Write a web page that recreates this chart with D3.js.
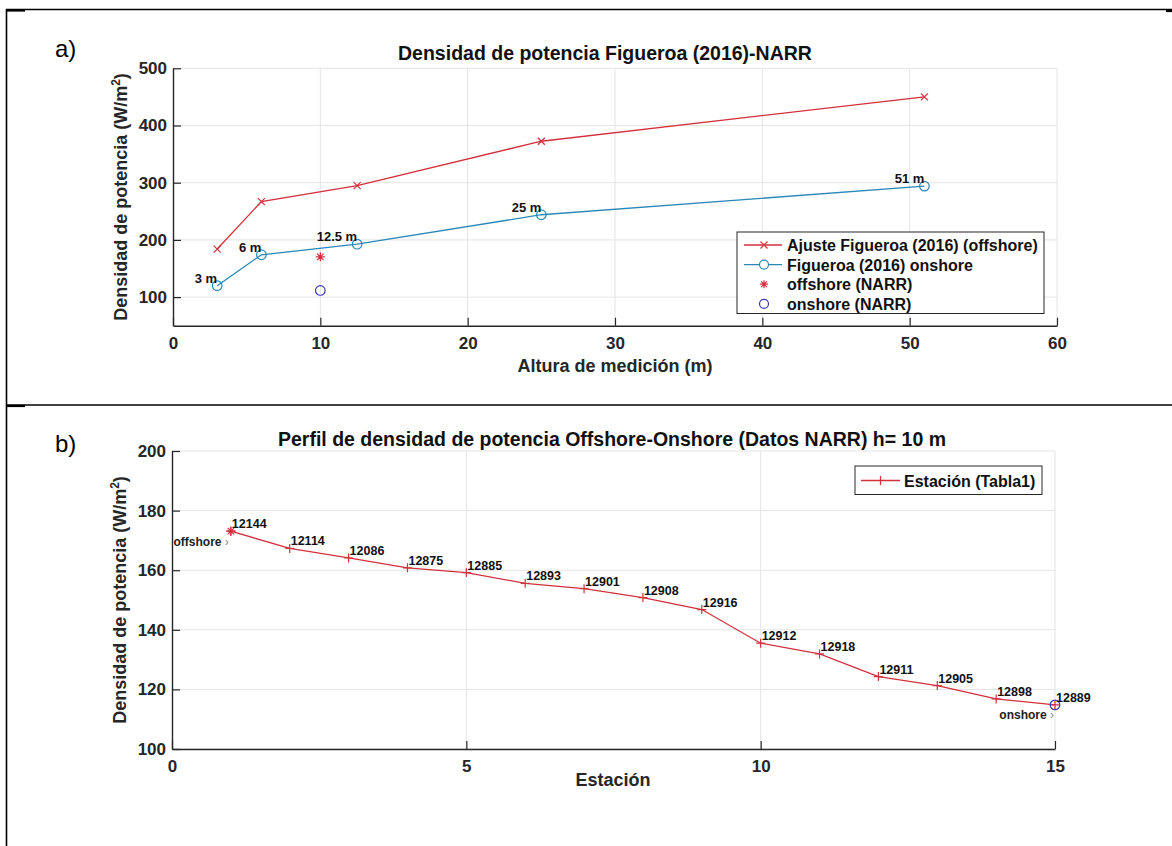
<!DOCTYPE html>
<html>
<head>
<meta charset="utf-8">
<script src="https://cdn.jsdelivr.net/npm/d3@7"></script>
<style>
  body { margin: 0; background: #fff; }
  svg text { font-family: "Liberation Sans", Arial, sans-serif; }
</style>
</head>
<body>
<div id="chart"></div>
<script>
// panel a) data
var alturas = [3, 6, 12.5, 25, 51];
var ajusteOffshore = [184, 267, 295, 372.5, 450];
var figueroaOnshore = [120, 174, 192.5, 244, 294];
var alturaLabels = ["3 m", "6 m", "12.5 m", "25 m", "51 m"];
var narrAltura = [10];
var narrOffshore = [170.4];
var narrOnshore = [111.6];
var xTicksA = [0, 10, 20, 30, 40, 50, 60];
var yTicksA = [100, 200, 300, 400, 500];

// panel b) data
var estaciones = [1, 2, 3, 4, 5, 6, 7, 8, 9, 10, 11, 12, 13, 14, 15];
var densidadPerfil = [173.1, 167.3, 164.1, 160.8, 159.2, 155.6, 153.8, 150.8, 146.8, 135.5, 131.9, 124.3, 121.3, 116.8, 114.8];
var estacionIds = ["12144", "12114", "12086", "12875", "12885", "12893", "12901", "12908", "12916", "12912", "12918", "12911", "12905", "12898", "12889"];
var xTicksB = [0, 5, 10, 15];
var yTicksB = [100, 120, 140, 160, 180, 200];

var RED = "#d3303c";
var BLUE = "#2a88b8";
var NAVY = "#3a3aa8";
var AXIS = "#262626";
var GRID = "#e4e4e4";

var svg = d3.select("#chart")
    .append("svg")
    .attr("width", 1172)
    .attr("height", 846);

// table frame around the two figures
svg.append("line").attr("x1", 6.5).attr("x2", 6.5).attr("y1", 9).attr("y2", 846)
    .attr("stroke", "#000").attr("stroke-width", 1.6);
svg.append("line").attr("x1", 6).attr("x2", 1172).attr("y1", 9.5).attr("y2", 9.5)
    .attr("stroke", "#000").attr("stroke-width", 1.6);
svg.append("line").attr("x1", 6).attr("x2", 1172).attr("y1", 405).attr("y2", 405)
    .attr("stroke", "#000").attr("stroke-width", 1.6);
// small corner marks of the table
svg.append("line").attr("x1", 6).attr("x2", 25).attr("y1", 10.5).attr("y2", 10.5)
    .attr("stroke", "#000").attr("stroke-width", 2.2);
svg.append("line").attr("x1", 6).attr("x2", 25).attr("y1", 406).attr("y2", 406)
    .attr("stroke", "#000").attr("stroke-width", 2.2);
svg.append("line").attr("x1", 1166).attr("x2", 1172).attr("y1", 11).attr("y2", 11)
    .attr("stroke", "#000").attr("stroke-width", 2.2);

// marker helpers
function crossPath(s) { return "M" + (-s) + "," + (-s) + "L" + s + "," + s + "M" + (-s) + "," + s + "L" + s + "," + (-s); }
function plusPath(s) { return "M" + (-s) + ",0L" + s + ",0M0," + (-s) + "L0," + s; }
function starPath(s) { var d = s * 0.72; return plusPath(s) + crossPath(d); }

function drawAxes(g, x, y, xTicks, yTicks) {
    // grid
    g.append("g").selectAll("line")
        .data(xTicks.filter(function (t) { return t !== xTicks[0]; }))
        .enter().append("line")
        .attr("x1", d => x(d)).attr("x2", d => x(d))
        .attr("y1", y.range()[0]).attr("y2", y.range()[1])
        .attr("stroke", GRID).attr("stroke-width", 1);
    g.append("g").selectAll("line")
        .data(yTicks)
        .enter().append("line")
        .attr("x1", x.range()[0]).attr("x2", x.range()[1])
        .attr("y1", d => y(d)).attr("y2", d => y(d))
        .attr("stroke", GRID).attr("stroke-width", 1);

    var xa = g.append("g")
        .attr("transform", "translate(0," + y.range()[0] + ")")
        .call(d3.axisBottom(x).tickValues(xTicks).tickSizeInner(-8).tickSizeOuter(0).tickPadding(11));
    var ya = g.append("g")
        .attr("transform", "translate(" + x.range()[0] + ",0)")
        .call(d3.axisLeft(y).tickValues(yTicks).tickSizeInner(-8).tickSizeOuter(0).tickPadding(6));
    [xa, ya].forEach(function (a) {
        a.select(".domain").attr("stroke", AXIS).attr("stroke-width", 1.4);
        a.selectAll(".tick line").attr("stroke", AXIS).attr("stroke-width", 1.2);
        a.selectAll(".tick text")
            .attr("fill", AXIS)
            .attr("font-size", 17)
            .attr("font-weight", "bold")
            .style("font-family", "'Liberation Sans', Arial, sans-serif");
    });
}

function yLabel(g, cx, cy) {
    var t = g.append("text")
        .attr("transform", "translate(" + cx + "," + cy + ") rotate(-90)")
        .attr("text-anchor", "middle")
        .attr("font-size", 18)
        .attr("font-weight", "bold")
        .attr("fill", AXIS);
    t.append("tspan").text("Densidad de potencia (W/m");
    t.append("tspan").attr("dy", -7).attr("font-size", 12).text("2");
    t.append("tspan").attr("dy", 7).text(")");
}

// ---------------- panel a ----------------
var ga = svg.append("g");
var xA = d3.scaleLinear().domain([0, 60]).range([173, 1057]);
var yA = d3.scaleLinear().domain([50, 500]).range([325.7, 68.3]);
drawAxes(ga, xA, yA, xTicksA, yTicksA);

ga.append("text").attr("x", 55).attr("y", 57).attr("font-size", 24).attr("fill", "#000").text("a)");
ga.append("text").attr("x", 605).attr("y", 60).attr("text-anchor", "middle")
    .attr("font-size", 19.5).attr("font-weight", "bold").attr("fill", "#111")
    .text("Densidad de potencia Figueroa (2016)-NARR");
yLabel(ga, 127, 197);
ga.append("text").attr("x", 615).attr("y", 372).attr("text-anchor", "middle")
    .attr("font-size", 18).attr("font-weight", "bold").attr("fill", AXIS)
    .text("Altura de medición (m)");

var lineA = d3.line().x(d => xA(d[0])).y(d => yA(d[1]));
var redPts = alturas.map((h, i) => [h, ajusteOffshore[i]]);
var bluePts = alturas.map((h, i) => [h, figueroaOnshore[i]]);

ga.append("path").datum(redPts).attr("d", lineA)
    .attr("fill", "none").attr("stroke", RED).attr("stroke-width", 1.3);
ga.append("g").selectAll("path").data(redPts).enter().append("path")
    .attr("transform", d => "translate(" + xA(d[0]) + "," + yA(d[1]) + ")")
    .attr("d", crossPath(3.5)).attr("stroke", RED).attr("stroke-width", 1.2);

ga.append("path").datum(bluePts).attr("d", lineA)
    .attr("fill", "none").attr("stroke", BLUE).attr("stroke-width", 1.3);
ga.append("g").selectAll("circle").data(bluePts).enter().append("circle")
    .attr("cx", d => xA(d[0])).attr("cy", d => yA(d[1])).attr("r", 4.8)
    .attr("fill", "none").attr("stroke", BLUE).attr("stroke-width", 1.2);

ga.append("g").selectAll("text").data(bluePts).enter().append("text")
    .attr("x", d => xA(d[0]))
    .attr("y", d => yA(d[1]) - 3)
    .attr("text-anchor", "end")
    .attr("font-size", 13).attr("font-weight", "bold").attr("fill", "#111")
    .text((d, i) => alturaLabels[i]);

ga.append("g").selectAll("path").data(narrAltura).enter().append("path")
    .attr("transform", (d, i) => "translate(" + xA(d) + "," + yA(narrOffshore[i]) + ")")
    .attr("d", starPath(4.5)).attr("stroke", RED).attr("stroke-width", 1.2);
ga.append("g").selectAll("circle").data(narrAltura).enter().append("circle")
    .attr("cx", d => xA(d)).attr("cy", (d, i) => yA(narrOnshore[i])).attr("r", 4.8)
    .attr("fill", "none").attr("stroke", NAVY).attr("stroke-width", 1.2);

// legend a
var legA = ga.append("g").attr("transform", "translate(737,232)");
legA.append("rect").attr("width", 307).attr("height", 81.5)
    .attr("fill", "#fff").attr("stroke", AXIS).attr("stroke-width", 1);
var legItemsA = [
    { label: "Ajuste Figueroa (2016) (offshore)", color: RED, mark: "x", line: true },
    { label: "Figueroa (2016) onshore", color: BLUE, mark: "o", line: true },
    { label: "offshore (NARR)", color: RED, mark: "*", line: false },
    { label: "onshore (NARR)", color: NAVY, mark: "o", line: false }
];
legItemsA.forEach(function (it, i) {
    var cy = 13 + i * 19.6;
    if (it.line) {
        legA.append("line").attr("x1", 7).attr("x2", 45).attr("y1", cy).attr("y2", cy)
            .attr("stroke", it.color).attr("stroke-width", 1.3);
    }
    if (it.mark === "o") {
        legA.append("circle").attr("cx", 27).attr("cy", cy).attr("r", 4.5)
            .attr("fill", it.line ? "#fff" : "none").attr("stroke", it.color).attr("stroke-width", 1.2);
    } else {
        legA.append("path").attr("transform", "translate(27," + cy + ")")
            .attr("d", it.mark === "x" ? crossPath(3.5) : starPath(4))
            .attr("stroke", it.color).attr("stroke-width", 1.2);
    }
    legA.append("text").attr("x", 50).attr("y", cy + 6)
        .attr("font-size", 16).attr("font-weight", "bold").attr("fill", "#111")
        .text(it.label);
});

// ---------------- panel b ----------------
var gb = svg.append("g");
var xB = d3.scaleLinear().domain([0, 15]).range([172, 1055]);
var yB = d3.scaleLinear().domain([100, 200]).range([749, 451]);
drawAxes(gb, xB, yB, xTicksB, yTicksB);

gb.append("text").attr("x", 55).attr("y", 452).attr("font-size", 24).attr("fill", "#000").text("b)");
gb.append("text").attr("x", 612).attr("y", 446).attr("text-anchor", "middle")
    .attr("font-size", 19.5).attr("font-weight", "bold").attr("fill", "#111")
    .text("Perfil de densidad de potencia Offshore-Onshore (Datos NARR) h= 10 m");
yLabel(gb, 126, 600);
gb.append("text").attr("x", 613).attr("y", 786).attr("text-anchor", "middle")
    .attr("font-size", 18).attr("font-weight", "bold").attr("fill", AXIS)
    .text("Estación");

var perfilPts = estaciones.map((e, i) => [e, densidadPerfil[i]]);
var lineB = d3.line().x(d => xB(d[0])).y(d => yB(d[1]));
gb.append("path").datum(perfilPts).attr("d", lineB)
    .attr("fill", "none").attr("stroke", RED).attr("stroke-width", 1.3);
gb.append("g").selectAll("path").data(perfilPts).enter().append("path")
    .attr("transform", d => "translate(" + xB(d[0]) + "," + yB(d[1]) + ")")
    .attr("d", plusPath(4.5)).attr("stroke", RED).attr("stroke-width", 1.2);

// NARR end points
var first = perfilPts[0], last = perfilPts[perfilPts.length - 1];
gb.append("path").attr("transform", "translate(" + xB(first[0]) + "," + yB(first[1]) + ")")
    .attr("d", starPath(4.5)).attr("stroke", RED).attr("stroke-width", 1.2);
gb.append("circle").attr("cx", xB(last[0])).attr("cy", yB(last[1])).attr("r", 4.8)
    .attr("fill", "none").attr("stroke", NAVY).attr("stroke-width", 1.2);

gb.append("g").selectAll("text").data(perfilPts).enter().append("text")
    .attr("x", d => xB(d[0]) + 1)
    .attr("y", d => yB(d[1]) - 3)
    .attr("font-size", 12.5).attr("font-weight", "bold").attr("fill", "#111")
    .text((d, i) => estacionIds[i]);

function endLabel(label, px, py) {
    var t = gb.append("text").attr("x", px).attr("y", py + 4)
        .attr("text-anchor", "end").attr("font-size", 12).attr("font-weight", "bold").attr("fill", "#222");
    t.append("tspan").text(label + " ");
    t.append("tspan").attr("fill", "#888").attr("font-weight", "normal").text("›");
}
endLabel("offshore", xB(1) - 2, yB(169.6));
endLabel("onshore", xB(15) - 1, yB(111.5));

// legend b
var legB = gb.append("g").attr("transform", "translate(855,466)");
legB.append("rect").attr("width", 187).attr("height", 28.5)
    .attr("fill", "#fff").attr("stroke", AXIS).attr("stroke-width", 1);
legB.append("line").attr("x1", 6).attr("x2", 45).attr("y1", 14.5).attr("y2", 14.5)
    .attr("stroke", RED).attr("stroke-width", 1.3);
legB.append("path").attr("transform", "translate(25.5,14.5)").attr("d", plusPath(4.5))
    .attr("stroke", RED).attr("stroke-width", 1.2);
legB.append("text").attr("x", 49).attr("y", 20.5)
    .attr("font-size", 16).attr("font-weight", "bold").attr("fill", "#111")
    .text("Estación (Tabla1)");
</script>
</body>
</html>
